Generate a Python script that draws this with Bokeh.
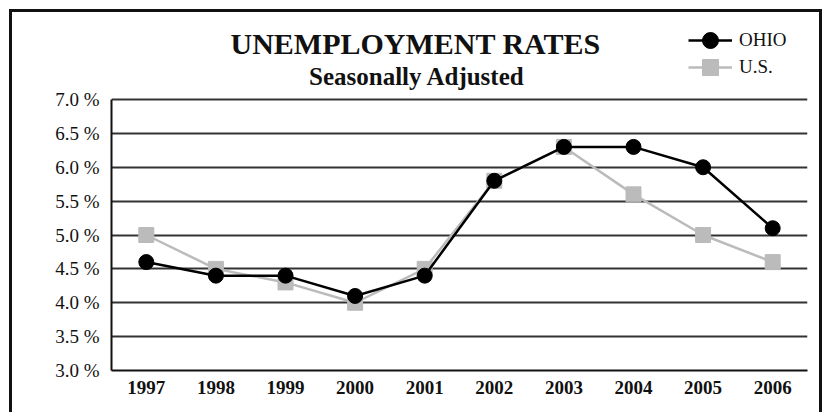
from bokeh.plotting import figure
from bokeh.models import (Label, Legend, LegendItem, FixedTicker, ColumnDataSource, Range1d)
from bokeh.embed import file_html
from bokeh.resources import INLINE

# ---- data ----
years = ["1997", "1998", "1999", "2000", "2001", "2002", "2003", "2004", "2005", "2006"]
ohio = [4.6, 4.4, 4.4, 4.1, 4.4, 5.8, 6.3, 6.3, 6.0, 5.1]
us = [5.0, 4.5, 4.3, 4.0, 4.5, 5.8, 6.3, 5.6, 5.0, 4.6]
y_ticks = [3.0, 3.5, 4.0, 4.5, 5.0, 5.5, 6.0, 6.5, 7.0]
y_tick_labels = ["3.0 %", "3.5 %", "4.0 %", "4.5 %", "5.0 %", "5.5 %", "6.0 %", "6.5 %", "7.0 %"]
title_text = "UNEMPLOYMENT RATES"
subtitle_text = "Seasonally Adjusted"
series_names = ["OHIO", "U.S."]

FONT = "Liberation Serif"
GRAY = "#bbbbbb"
INK = "#111111"

# layout (pixels inside the canvas)
CANVAS_W, CANVAS_H = 807, 400
LEFT, RIGHT, BOTTOM = 99, 12, 42
HEAD = 87            # title area above the 7.0 line, kept inside the frame
Y0, Y1 = y_ticks[0], y_ticks[-1]
plot_h = CANVAS_H - BOTTOM - HEAD
y_top = Y1 + (Y1 - Y0) * HEAD / plot_h

src = ColumnDataSource(dict(year=years, ohio=ohio, us=us))

p = figure(width=CANVAS_W, height=CANVAS_H, x_range=years, y_range=Range1d(Y0, y_top),
           output_backend="svg", toolbar_location=None,
           min_border_left=LEFT, min_border_top=0, min_border_right=RIGHT, min_border_bottom=BOTTOM)
p.x_range.range_padding = 0
p.outline_line_color = None
p.background_fill_color = "white"
p.border_fill_color = "white"
p.styles = {"margin": "12px 0px 0px 12px", "box-shadow": "0 0 0 3px #111111"}

# grid
p.xgrid.grid_line_color = None
p.ygrid.grid_line_color = "#333333"
p.ygrid.grid_line_width = 2
p.yaxis.ticker = FixedTicker(ticks=y_ticks)
p.yaxis.bounds = (Y0, Y1)
p.yaxis.major_label_overrides = {t: l for t, l in zip(y_ticks, y_tick_labels)}

for ax in (p.xaxis[0], p.yaxis[0]):
    ax.axis_line_color = INK
    ax.axis_line_width = 2
    ax.major_tick_line_color = None
    ax.minor_tick_line_color = None
    ax.major_tick_out = 0
    ax.major_tick_in = 0
    ax.major_label_text_font = FONT
    ax.major_label_text_font_size = "19px"
    ax.major_label_text_color = INK

p.yaxis.major_label_standoff = 12
p.xaxis.major_label_standoff = 10
p.xaxis.major_label_text_font_style = "bold"

us_line = p.line("year", "us", source=src, line_color=GRAY, line_width=2.5)
us_sq = p.scatter("year", "us", source=src, marker="square", size=15,
                  fill_color=GRAY, line_color=GRAY)
oh_line = p.line("year", "ohio", source=src, line_color="black", line_width=2.5)
oh_c = p.scatter("year", "ohio", source=src, marker="circle", size=15,
                 fill_color="black", line_color="black")

legend_style = dict(orientation="vertical", glyph_width=44, glyph_height=40, spacing=0,
                    label_standoff=7, padding=0, margin=0, border_line_color=None,
                    background_fill_alpha=0, label_text_font=FONT,
                    label_text_font_size="19px", label_text_color=INK)
p.add_layout(Legend(items=[LegendItem(label=series_names[0], renderers=[oh_line, oh_c])],
                    location=(577, 310), **legend_style), "center")
p.add_layout(Legend(items=[LegendItem(label=series_names[1], renderers=[us_line, us_sq])],
                    location=(577, 283), **legend_style), "center")

p.add_layout(Label(x=4.37, y=7.826, text=title_text,
                   text_align="center", text_baseline="alphabetic", text_font=FONT,
                   text_font_size="30px", text_font_style="bold", text_color=INK))
p.add_layout(Label(x=4.39, y=7.340, text=subtitle_text,
                   text_align="center", text_baseline="alphabetic", text_font=FONT,
                   text_font_size="25px", text_font_style="bold", text_color=INK))

open("out.html", "w").write(file_html(p, INLINE))
